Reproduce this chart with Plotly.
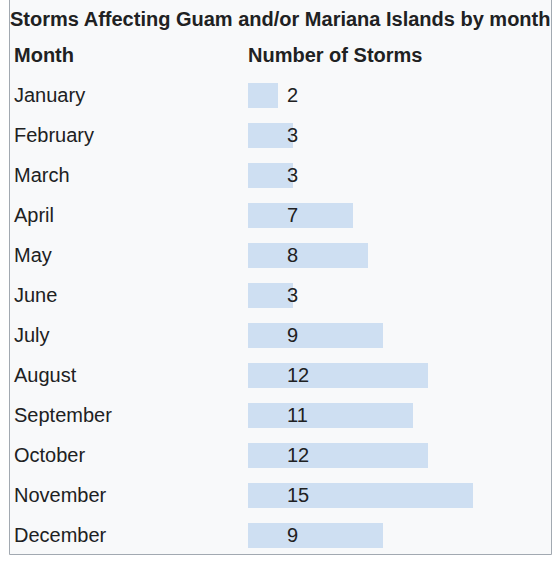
import plotly.graph_objects as go

title = "Storms Affecting Guam and/or Mariana Islands by month"
col_headers = ["Month", "Number of Storms"]
months = ["January", "February", "March", "April", "May", "June", "July",
          "August", "September", "October", "November", "December"]
storms = [2, 3, 3, 7, 8, 3, 9, 12, 11, 12, 15, 9]

W, H = 558, 562
L, R, T, B = 248, 10, 75, 7
PW = W - L - R  # 300 px -> 15 px per storm
PH = H - T - B  # 480 px -> 40 px per row

def px(x):
    return (x - L) / PW

def py(y):
    return (H - B - y) / PH

FONT = "Liberation Sans, Arial, sans-serif"
TXT = "#202122"
FS = 20

def note(x, xref, y, yref, text, xanchor="left"):
    return dict(x=x, xref=xref, y=y, yref=yref, text=text,
                xanchor=xanchor, yanchor="middle", showarrow=False,
                borderpad=0, borderwidth=0,
                font=dict(family=FONT, size=FS, color=TXT))

fig = go.Figure()
fig.add_trace(go.Bar(
    x=storms, y=months, orientation="h",
    marker=dict(color="#cedff2", line=dict(width=0)),
    width=0.625, hoverinfo="skip",
))

ann = []
for m, v in zip(months, storms):
    ann.append(note(px(14), "paper", m, "y", m))
    ann.append(note(px(287), "paper", m, "y", str(v)))
ann.append(note(px(14), "paper", py(55), "paper", "<b>%s</b>" % col_headers[0]))
ann.append(note(px(248), "paper", py(55), "paper", "<b>%s</b>" % col_headers[1]))
ann.append(note(px(280), "paper", py(19), "paper", "<b>%s</b>" % title, "center"))

fig.update_layout(
    width=W, height=H,
    margin=dict(l=L, r=R, t=T, b=B, pad=0),
    paper_bgcolor="white", plot_bgcolor="rgba(0,0,0,0)",
    showlegend=False,
    bargap=0,
    xaxis=dict(range=[0, PW / 15], visible=False, fixedrange=True),
    yaxis=dict(categoryorder="array", categoryarray=months,
               range=[11.5, -0.5], visible=False, fixedrange=True),
    annotations=ann,
    shapes=[dict(type="rect", xref="paper", yref="paper",
                 x0=px(9.5), x1=px(551.5), y0=py(554.5), y1=py(-5),
                 fillcolor="#f8f9fa", line=dict(color="#a2a9b1", width=1),
                 layer="below")],
)

fig.write_html("out.html", config={"displayModeBar": False})
